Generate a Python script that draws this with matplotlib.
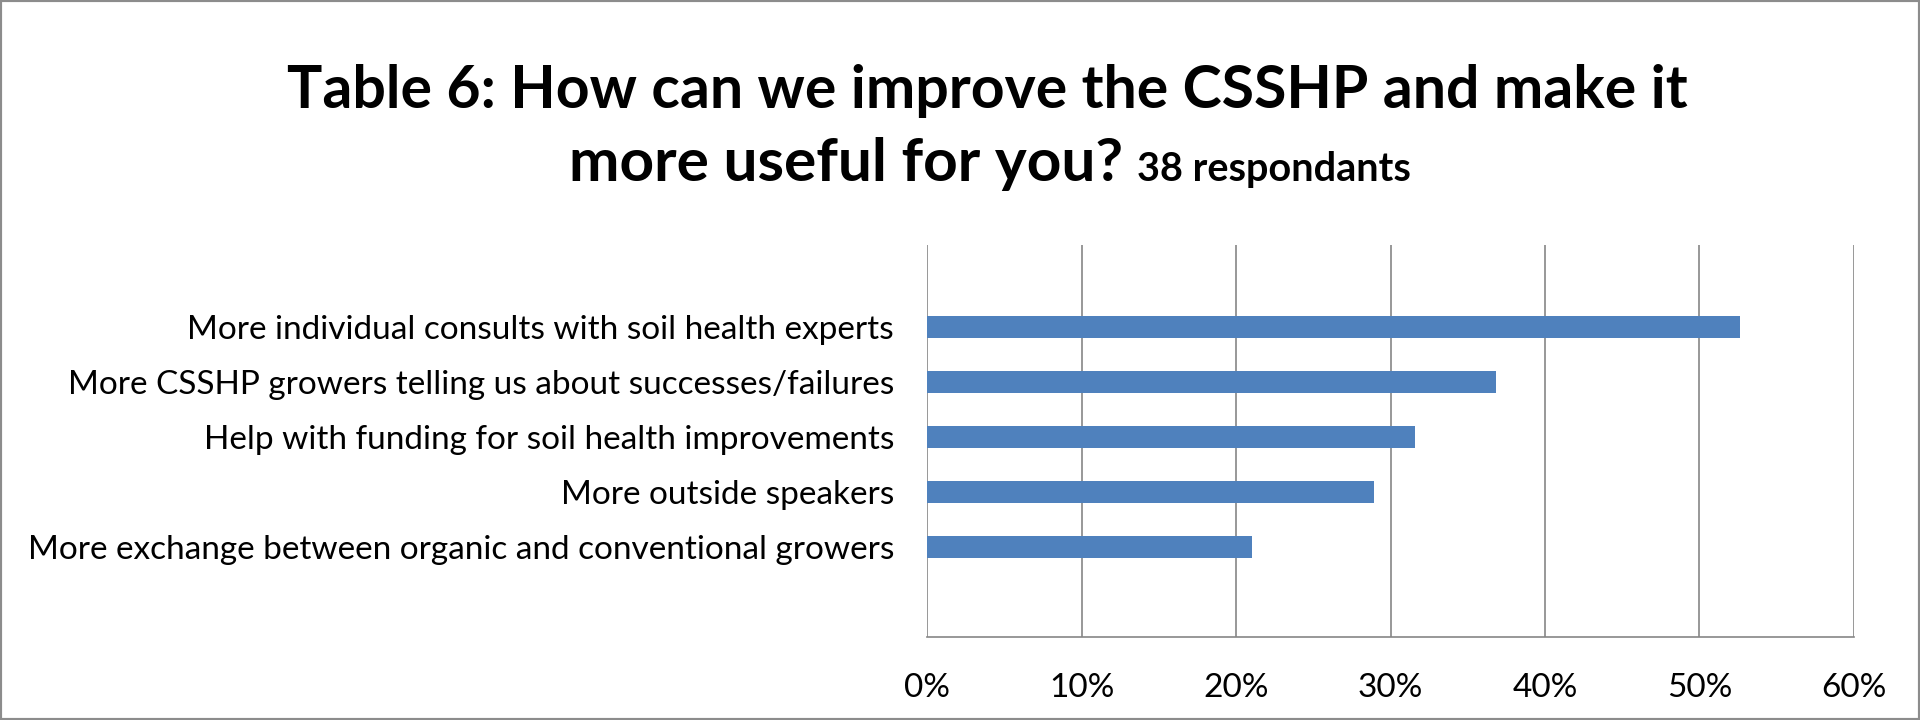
import matplotlib.pyplot as plt
from matplotlib.patches import Rectangle
from matplotlib.ticker import PercentFormatter

plt.rcParams['font.family'] = ['Lato', 'DejaVu Sans']

answers = [
    "More exchange between organic and conventional growers",
    "More outside speakers",
    "Help with funding for soil health improvements",
    "More CSSHP growers telling us about successes/failures",
    "More individual consults with soil health experts",
]
counts = [8, 11, 12, 14, 20]
respondents = 38
shares = [c / respondents for c in counts]
x_ticks = [0, 0.1, 0.2, 0.3, 0.4, 0.5, 0.6]

fig = plt.figure(figsize=(19.2, 7.2), dpi=100)
ax = fig.add_axes([0.483, 0.115, 0.4825, 0.545])

ax.barh(range(len(answers)), shares, height=0.4, color="#4F81BD", zorder=3)
ax.set_yticks(range(len(answers)))
ax.set_yticklabels(answers, fontsize=24)
ax.set_ylim(-1.65, 5.5)
ax.set_xlim(0, 0.6)
ax.set_xticks(x_ticks)
ax.xaxis.set_major_formatter(PercentFormatter(1.0, decimals=0))
ax.tick_params(axis='x', labelsize=24, length=0, pad=26)
ax.tick_params(axis='y', length=0, pad=24)
ax.grid(axis='x', color="#868686", linewidth=1.2, zorder=0)
for s in ['top', 'right', 'left']:
    ax.spines[s].set_visible(False)
ax.spines['bottom'].set_color("#868686")
ax.spines['bottom'].set_linewidth(1.2)

fig.text(0.514, 0.85, "Table 6: How can we improve the CSSHP and make it",
         ha='center', va='baseline', fontsize=42.5, fontweight='bold')
fig.text(0.585, 0.748, "more useful for you?", ha='right', va='baseline',
         fontsize=43.5, fontweight='bold')
fig.text(0.592, 0.748, f"{respondents} respondants", ha='left', va='baseline',
         fontsize=28.5, fontweight='bold')

fig.patches.append(Rectangle((0, 0), 1, 1, transform=fig.transFigure,
                             fill=False, edgecolor="#8c8c8c", linewidth=3))

fig.savefig("out.png", dpi=100)
